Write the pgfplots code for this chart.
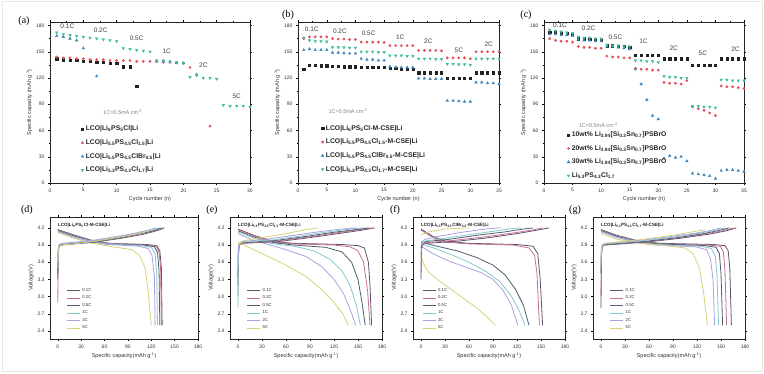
\documentclass[border=0pt]{standalone}
\usepackage{pgfplots}
\pgfplotsset{compat=1.18}
\usepackage{fontspec}
\setmainfont{Liberation Sans}
\newfontfamily\seriffont{Liberation Serif}

\definecolor{cBlack}{HTML}{222222}
\definecolor{cRed}{HTML}{E8505A}
\definecolor{cBlue}{HTML}{3F86B8}
\definecolor{cGreen}{HTML}{40BE98}
\definecolor{rA}{HTML}{5E5470}
\definecolor{rB}{HTML}{C8708E}
\definecolor{rC}{HTML}{4E5E70}
\definecolor{rD}{HTML}{86CACA}
\definecolor{rE}{HTML}{A9A2E0}
\definecolor{rF}{HTML}{D9D27A}

\pgfplotsset{
  common/.style={
    scale only axis,
    axis line style={line width=0.9pt, black!85},
    tick style={black, line width=0.4pt},
    tick align=outside,
    major tick length=2pt, minor tick length=1.2pt,
    minor x tick num=1,
    tick label style={font=\fontsize{5}{5.5}\selectfont, text=black!80},
    /pgf/number format/assume math mode=true,
    label style={font=\fontsize{5.5}{6}\selectfont, text=black!80},
    clip=true,
  },
  rate/.style={common,
    width=200pt, height=161pt,
    xmin=0, ymin=0, ymax=184,
    ytick={0,30,...,180},
    minor y tick num=1,
    xlabel={Cycle number (n)},
    ylabel={Specific capacity (mAh g\textsuperscript{-1})},
    xlabel style={yshift=2pt},
    ylabel style={yshift=-3pt},
    legend style={draw=none, fill=none, font=\bfseries\fontsize{6.8}{7}\selectfont, row sep=3.2pt, text=black!85},
    legend cell align=left,
  },
  volt/.style={common,
    width=150pt, height=122pt,
    xmin=-10, xmax=180, ymin=2.26, ymax=4.39,
    xtick={0,30,60,90,120,150,180},
    ytick={2.4,2.7,3.0,3.3,3.6,3.9,4.2},
    yticklabel style={/pgf/number format/.cd, fixed, fixed zerofill, precision=1},
    xlabel={Specific capacity(mAh g\textsuperscript{-1})},
    ylabel={Voltage(V)},
    xlabel style={yshift=2pt},
    ylabel style={yshift=-3pt},
    legend style={draw=none, fill=none, font=\fontsize{4.3}{4.6}\selectfont, row sep=-1pt, text=black!80},
    legend cell align=left,
    legend image code/.code={\draw[#1] (0pt,0pt) -- (13pt,0pt);},
    every axis plot/.append style={line width=0.8pt},
  },
  sK/.style={only marks, mark=square*, mark size=1.1pt, color=cBlack},
  sR/.style={only marks, mark=*, mark size=1.2pt, color=cRed},
  sB/.style={only marks, mark=triangle*, mark size=1.5pt, color=cBlue},
  sG/.style={only marks, mark=triangle*, mark size=1.5pt, color=cGreen, mark options={rotate=180}},
}
\newcommand{\ann}{\fontsize{6.5}{7}\selectfont}
\newcommand{\ttl}{\bfseries\fontsize{4.6}{5}\selectfont}

\begin{document}
\begin{tikzpicture}
\path[use as bounding box, fill=white] (0pt,0pt) rectangle (764pt,374pt);
\draw[gray!18, line width=1pt] (2pt,2pt) rectangle (762pt,372pt);

% ---------------- (a)
\begin{axis}[rate, at={(50pt,191pt)}, anchor=south west, xmax=30, xtick={0,5,...,30},
  legend style={at={(0.14,0.38)}, anchor=north west}]
\addplot[sK] coordinates {(1,142)(2,141)(3,140)(4,140)(5,139)(6,139)(7,138)(8,138)(9,137)(10,137)(11,133)(12,133)(13,111)};
\addlegendentry{LCO|Li\textsubscript{6}PS\textsubscript{5}Cl|Li}
\addplot[sR] coordinates {(1,144)(2,143)(3,143)(4,142)(5,142)(6,141)(7,141)(8,141)(9,140)(10,140)(11,140)(12,140)(13,139)(14,139)(15,139)(16,139)(17,138)(18,138)(19,138)(20,137)(21,132)(24,65)};
\addlegendentry{LCO|Li\textsubscript{5.5}PS\textsubscript{4.5}Cl\textsubscript{1.5}|Li}
\addplot[sB] coordinates {(1,168)(2,167)(3,165)(4,163)(5,154)(7,122)(16,139)(17,139)(18,138)(19,137)(20,137)(22,124)};
\addlegendentry{LCO|Li\textsubscript{5.5}PS\textsubscript{4.5}ClBr\textsubscript{0.5}|Li}
\addplot[sG] coordinates {(1,172)(2,170)(3,169)(4,168)(5,167)(6,166)(7,165)(8,164)(9,163)(10,162)(11,154)(12,153)(13,152)(14,151)(15,150)(16,140)(17,140)(18,139)(19,138)(20,137)(21,121)(22,123)(23,120)(24,120)(25,119)(26,89)(27,88)(28,88)(29,88)(30,87)};
\addlegendentry{LCO|Li\textsubscript{5.3}PS\textsubscript{4.3}Cl\textsubscript{1.7}|Li}
\node[font=\ann, text=black!75] at (axis cs:2.6,179) {0.1C};
\node[font=\ann, text=black!75] at (axis cs:7.6,174) {0.2C};
\node[font=\ann, text=black!75] at (axis cs:13,165) {0.5C};
\node[font=\ann, text=black!75] at (axis cs:17.5,150) {1C};
\node[font=\ann, text=black!75] at (axis cs:23,134) {2C};
\node[font=\ann, text=black!75] at (axis cs:28,99) {5C};
\node[font=\fontsize{5.5}{6}\selectfont, text=gray] at (axis cs:10.9,81) {1C=0.5mA cm\textsuperscript{-2}};
\end{axis}

% ---------------- (b)
\begin{axis}[rate, at={(298pt,191pt)}, anchor=south west, width=201pt, xmax=35, xtick={0,5,...,35},
  legend style={at={(0.1,0.385)}, anchor=north west}]
\addplot[sK] coordinates {(1,130)(2,135)(3,134.5)(4,134)(5,134)(6,133.5)(7,133.5)(8,133)(9,133)(10,133)(11,132.5)(12,132.5)(13,132)(14,132)(15,132)(16,131)(17,131)(18,130.5)(19,130.5)(20,130)(21,126)(22,126)(23,126)(24,126)(25,126)(26,120)(27,120)(28,120)(29,120)(30,120)(31,126)(32,126)(33,126)(34,126)(35,126)};
\addlegendentry{LCO|Li\textsubscript{6}PS\textsubscript{5}Cl-M-CSE|Li}
\addplot[sR] coordinates {(1,165)(2,167)(3,167)(4,167)(5,167)(6,165)(7,164.5)(8,164.5)(9,164)(10,164)(11,161)(12,161)(13,161)(14,161)(15,160.5)(16,157)(17,157)(18,157)(19,157)(20,157)(21,151.5)(22,151.5)(23,151.5)(24,151.5)(25,151)(26,143)(27,143)(28,143)(29,143)(30,142)(31,150)(32,150)(33,150)(34,150)(35,150)};
\addlegendentry{LCO|Li\textsubscript{5.5}PS\textsubscript{4.5}Cl\textsubscript{1.5}-M-CSE|Li}
\addplot[sB] coordinates {(1,152)(2,153)(3,152)(4,152)(5,152)(6,149)(7,149)(8,148.5)(9,148)(10,148)(11,142)(12,141)(13,141)(14,140)(15,140)(16,133)(17,132.5)(18,132)(19,132)(20,132)(21,119.5)(22,119.5)(23,119)(24,119)(25,119)(26,94)(27,94)(28,93.5)(29,93)(30,93)(31,115)(32,115)(33,114)(34,114)(35,113)};
\addlegendentry{LCO|Li\textsubscript{5.5}PS\textsubscript{4.5}ClBr\textsubscript{0.5}-M-CSE|Li}
\addplot[sG] coordinates {(1,166)(2,163)(3,162)(4,162)(5,161.5)(6,155)(7,155)(8,155)(9,154.5)(10,154.5)(11,150)(12,150)(13,150)(14,149.5)(15,149.5)(16,145.5)(17,145.5)(18,145.5)(19,145)(20,145)(21,142)(22,142)(23,142)(24,141.5)(25,141.5)(26,136)(27,136)(28,135.5)(29,135.5)(30,135)(31,142)(32,142)(33,142)(34,142)(35,142)};
\addlegendentry{LCO|Li\textsubscript{5.3}PS\textsubscript{4.3}Cl\textsubscript{1.7}-M-CSE|Li}
\node[font=\ann, text=black!75] at (axis cs:2.4,176) {0.1C};
\node[font=\ann, text=black!75] at (axis cs:7.3,173) {0.2C};
\node[font=\ann, text=black!75] at (axis cs:12.3,171.5) {0.5C};
\node[font=\ann, text=black!75] at (axis cs:17.8,167) {1C};
\node[font=\ann, text=black!75] at (axis cs:22.7,162) {2C};
\node[font=\ann, text=black!75] at (axis cs:28,151.5) {5C};
\node[font=\ann, text=black!75] at (axis cs:33.2,159) {2C};
\node[font=\fontsize{5.5}{6}\selectfont, text=gray] at (axis cs:8.7,82) {1C=0.5mA cm\textsuperscript{-2}};
\end{axis}

% ---------------- (c)
\begin{axis}[rate, at={(544pt,191pt)}, anchor=south west, xmax=35, xtick={0,5,...,35},
  legend style={at={(0.1,0.345)}, anchor=north west}]
\addplot[sK] coordinates {(1,172)(2,172)(3,171)(4,171)(5,170)(6,165)(7,165)(8,164)(9,164)(10,163)(11,157)(12,157)(13,156)(14,156)(15,155)(16,146)(17,146)(18,146)(19,146)(20,146)(21,142)(22,142)(23,142)(24,142)(25,142)(26,135)(27,135)(28,135)(29,135)(30,135)(31,142)(32,142)(33,142)(34,142)(35,142)};
\addlegendentry{10wt\% Li\textsubscript{3.94}[Si\textsubscript{0.3}Sn\textsubscript{0.7}]PSBrO}
\addplot[sR] coordinates {(1,165)(2,163)(3,162)(4,162)(5,161)(6,156)(7,155)(8,155)(9,154)(10,154)(11,145)(12,144)(13,144)(14,143)(15,143)(16,131)(17,130)(18,130)(19,129)(20,129)(21,115)(22,114)(23,114)(24,113)(25,117)(26,87)(27,85)(28,83)(29,80)(30,77)(31,111)(32,110)(33,110)(34,109)(35,108)};
\addlegendentry{20wt\% Li\textsubscript{3.94}[Si\textsubscript{0.3}Sn\textsubscript{0.7}]PSBrO}
\addplot[sB] coordinates {(1,170)(2,170)(3,169)(4,169)(5,168)(6,164)(7,163)(8,163)(9,162)(10,162)(11,156)(12,156)(13,155)(14,154)(15,153)(16,130)(17,113)(18,95)(19,77)(20,73)(21,28)(22,31)(23,29)(24,30)(25,25)(26,11)(27,10)(28,9)(29,8)(30,5)(31,14)(32,15)(33,15)(34,14)(35,13)};
\addlegendentry{30wt\% Li\textsubscript{3.94}[Si\textsubscript{0.3}Sn\textsubscript{0.7}]PSBrO}
\addplot[sG] coordinates {(1,175)(2,174)(3,173)(4,172)(5,171)(6,167)(7,166)(8,166)(9,165)(10,165)(11,158)(12,157)(13,157)(14,156)(15,156)(16,140)(17,140)(18,139)(19,139)(20,138)(21,122)(22,121)(23,121)(24,120)(25,120)(26,88)(27,88)(28,87)(29,87)(30,86)(31,118)(32,118)(33,117)(34,117)(35,117)};
\addlegendentry{Li\textsubscript{5.3}PS\textsubscript{4.3}Cl\textsubscript{1.7}}
\node[font=\ann, text=black!75] at (axis cs:2.8,180) {0.1C};
\node[font=\ann, text=black!75] at (axis cs:7.8,176.5) {0.2C};
\node[font=\ann, text=black!75] at (axis cs:12.5,166) {0.5C};
\node[font=\ann, text=black!75] at (axis cs:17.4,162) {1C};
\node[font=\ann, text=black!75] at (axis cs:22.7,154) {2C};
\node[font=\ann, text=black!75] at (axis cs:27.8,148) {5C};
\node[font=\ann, text=black!75] at (axis cs:33.5,152.7) {2C};
\node[font=\fontsize{5.5}{6}\selectfont, text=gray] at (axis cs:9.5,66) {1C=0.5mA cm\textsuperscript{-2}};
\end{axis}

% ---------------- (d)
\begin{axis}[volt, at={(50pt,35pt)}, anchor=south west, width=148pt,
  legend style={at={(0.09,0.45)}, anchor=north west}]
\addplot[rA] coordinates {(0,4.17)(20,4.08)(47,3.97)(67,3.93)(114,3.91)(127,3.89)(131,3.8)(133,3.5)(134,2.5)}; \addlegendentry{0.1C}
\addplot[rB] coordinates {(0,4.16)(20,4.07)(46,3.97)(66,3.93)(113,3.9)(126,3.88)(130,3.78)(132,3.5)(133,2.5)}; \addlegendentry{0.2C}
\addplot[rC] coordinates {(0,4.15)(20,4.06)(46,3.96)(65,3.92)(111,3.9)(124,3.87)(128,3.77)(130,3.45)(131,2.5)}; \addlegendentry{0.5C}
\addplot[rD] coordinates {(0,4.14)(20,4.05)(45,3.96)(64,3.92)(108,3.89)(120,3.86)(125,3.75)(127,3.4)(128,2.5)}; \addlegendentry{1C}
\addplot[rE] coordinates {(0,4.13)(20,4.04)(44,3.95)(62,3.91)(104,3.88)(116,3.84)(121,3.72)(124,3.35)(125,2.5)}; \addlegendentry{2C}
\addplot[rF] coordinates {(0,4.12)(20,4.02)(45,3.93)(70,3.87)(95,3.82)(105,3.72)(112,3.5)(116,3.1)(120,2.5)}; \addlegendentry{5C}
\addplot[rA, forget plot] coordinates {(0,3.3)(0.5,3.75)(1.5,3.88)(5,3.9)(48,3.95)(82,4.02)(110,4.09)(127,4.15)(137,4.2)};
\addplot[rB, forget plot] coordinates {(0,2.9)(0.5,3.7)(1.5,3.88)(5,3.91)(47,3.96)(81,4.03)(108,4.1)(125,4.15)(135,4.2)};
\addplot[rC, forget plot] coordinates {(0,3.4)(0.5,3.78)(1.5,3.89)(5,3.91)(46,3.96)(80,4.03)(106,4.1)(123,4.15)(133,4.2)};
\addplot[rD, forget plot] coordinates {(0,3.5)(0.5,3.8)(1.5,3.9)(5,3.92)(45,3.97)(78,4.04)(104,4.11)(120,4.16)(130,4.2)};
\addplot[rE, forget plot] coordinates {(0,3.6)(0.5,3.83)(1.5,3.91)(5,3.93)(44,3.98)(76,4.05)(100,4.11)(116,4.16)(126,4.2)};
\addplot[rF, forget plot] coordinates {(0,3.6)(0.5,3.84)(2,3.9)(20,3.92)(50,3.97)(80,4.04)(105,4.1)(118,4.15)};
\node[font=\ttl, anchor=north west, text=black!85] at (rel axis cs:0.03,0.98) {LCO|Li\textsubscript{6}PS\textsubscript{5}Cl-M-CSE|Li};
\end{axis}

% ---------------- (e)
\begin{axis}[volt, at={(230pt,35pt)}, anchor=south west, width=152pt,
  legend style={at={(0.09,0.45)}, anchor=north west}]
\addplot[rA] coordinates {(0,4.18)(20,4.07)(45,3.96)(70,3.93)(130,3.91)(150,3.89)(158,3.85)(163,3.6)(165,3.2)(167,2.5)}; \addlegendentry{0.1C}
\addplot[rB] coordinates {(0,4.17)(20,4.06)(45,3.95)(70,3.92)(120,3.9)(140,3.87)(150,3.8)(157,3.6)(162,3.1)(165,2.5)}; \addlegendentry{0.2C}
\addplot[rC] coordinates {(0,4.15)(20,4.04)(45,3.94)(70,3.9)(110,3.86)(130,3.78)(142,3.6)(150,3.3)(155,2.9)(159,2.5)}; \addlegendentry{0.5C}
\addplot[rD] coordinates {(0,4.13)(20,4.02)(40,3.93)(70,3.88)(95,3.8)(115,3.65)(130,3.45)(140,3.2)(148,2.85)(153,2.5)}; \addlegendentry{1C}
\addplot[rE] coordinates {(0,4.1)(20,3.98)(40,3.9)(60,3.82)(85,3.7)(105,3.52)(120,3.3)(132,3.05)(141,2.75)(147,2.5)}; \addlegendentry{2C}
\addplot[rF] coordinates {(0,3.95)(15,3.85)(35,3.72)(60,3.55)(85,3.35)(105,3.12)(120,2.9)(131,2.7)(138,2.5)}; \addlegendentry{5C}
\addplot[rA, forget plot] coordinates {(0,3.2)(0.5,3.75)(1.5,3.9)(5,3.93)(50,3.96)(90,4.03)(125,4.1)(155,4.16)(171,4.2)};
\addplot[rB, forget plot] coordinates {(0,3.0)(0.5,3.72)(1.5,3.9)(5,3.93)(48,3.97)(88,4.04)(122,4.11)(152,4.17)(168,4.2)};
\addplot[rC, forget plot] coordinates {(0,3.35)(0.5,3.78)(1.5,3.91)(5,3.94)(46,3.98)(85,4.05)(118,4.12)(147,4.17)(164,4.2)};
\addplot[rD, forget plot] coordinates {(0,2.8)(0.5,3.7)(1.5,3.91)(5,3.95)(44,3.99)(80,4.06)(112,4.13)(140,4.18)(157,4.2)};
\addplot[rE, forget plot] coordinates {(0,3.6)(0.5,3.85)(1.5,3.93)(5,3.96)(40,4.01)(75,4.08)(105,4.14)(130,4.18)(148,4.2)};
\addplot[rF, forget plot] coordinates {(0,3.9)(5,3.97)(30,4.03)(60,4.1)(85,4.17)(100,4.2)};
\node[font=\ttl, anchor=north west, text=black!85] at (rel axis cs:0.03,0.98) {LCO|Li\textsubscript{5.5}PS\textsubscript{4.5}Cl\textsubscript{1.5}-M-CSE|Li};
\end{axis}

% ---------------- (f)
\begin{axis}[volt, at={(413pt,35pt)}, anchor=south west, width=152pt,
  legend style={at={(0.04,0.45)}, anchor=north west}]
\addplot[rA] coordinates {(0,4.18)(15,4.05)(30,3.97)(60,3.93)(120,3.91)(140,3.88)(146,3.75)(149,3.3)(152,2.5)}; \addlegendentry{0.1C}
\addplot[rB] coordinates {(0,4.16)(15,4.03)(30,3.95)(60,3.92)(115,3.9)(135,3.85)(142,3.72)(145,3.4)(148,2.5)}; \addlegendentry{0.2C}
\addplot[rC] coordinates {(0,3.95)(20,3.88)(45,3.8)(70,3.68)(90,3.55)(105,3.38)(118,3.13)(128,2.85)(135,2.5)}; \addlegendentry{0.5C}
\addplot[rD] coordinates {(0,3.92)(20,3.83)(40,3.72)(60,3.6)(80,3.45)(98,3.27)(112,3.03)(122,2.78)(130,2.5)}; \addlegendentry{1C}
\addplot[rE] coordinates {(0,3.88)(15,3.75)(35,3.62)(55,3.52)(75,3.42)(90,3.3)(103,3.1)(113,2.85)(121,2.5)}; \addlegendentry{2C}
\addplot[rF] coordinates {(0,3.72)(4,3.55)(10,3.42)(25,3.25)(40,3.1)(55,2.95)(70,2.8)(82,2.65)(93,2.5)}; \addlegendentry{5C}
\addplot[rA, forget plot] coordinates {(0,3.3)(0.5,3.8)(1.5,3.9)(5,3.93)(40,3.96)(80,4.02)(120,4.1)(145,4.16)(160,4.2)};
\addplot[rB, forget plot] coordinates {(0,3.5)(0.5,3.83)(1.5,3.92)(5,3.94)(40,3.98)(78,4.04)(115,4.11)(138,4.16)(152,4.2)};
\addplot[rC, forget plot] coordinates {(0,3.85)(1.5,3.93)(5,3.96)(35,4.0)(70,4.07)(105,4.13)(128,4.18)(140,4.2)};
\addplot[rD, forget plot] coordinates {(0,3.9)(5,3.97)(30,4.02)(60,4.08)(95,4.15)(115,4.19)(125,4.2)};
\addplot[rE, forget plot] coordinates {(0,3.95)(5,4.0)(25,4.06)(50,4.12)(80,4.18)(100,4.2)};
\addplot[rF, forget plot] coordinates {(0,4.08)(10,4.13)(30,4.18)(60,4.2)};
\node[font=\ttl, anchor=north west, text=black!85] at (rel axis cs:0.03,0.98) {LCO|Li\textsubscript{5.5}PS\textsubscript{4.5}ClBr\textsubscript{0.5}-M-CSE|Li};
\end{axis}

% ---------------- (g)
\begin{axis}[volt, at={(593pt,35pt)}, anchor=south west, width=152pt,
  legend style={at={(0.09,0.45)}, anchor=north west}]
\addplot[rA] coordinates {(0,4.17)(20,4.07)(50,3.96)(75,3.93)(140,3.91)(155,3.89)(159,3.8)(161,3.5)(163,2.5)}; \addlegendentry{0.1C}
\addplot[rB] coordinates {(0,4.16)(20,4.06)(49,3.96)(73,3.92)(135,3.9)(149,3.88)(153,3.78)(155,3.45)(157,2.5)}; \addlegendentry{0.2C}
\addplot[rC] coordinates {(0,4.15)(20,4.05)(48,3.95)(72,3.92)(130,3.89)(144,3.86)(148,3.75)(150,3.4)(152,2.5)}; \addlegendentry{0.5C}
\addplot[rD] coordinates {(0,4.14)(20,4.04)(47,3.95)(70,3.91)(125,3.88)(138,3.84)(143,3.7)(145,3.35)(147,2.5)}; \addlegendentry{1C}
\addplot[rE] coordinates {(0,4.13)(20,4.03)(46,3.94)(68,3.9)(118,3.87)(132,3.82)(137,3.65)(140,3.3)(142,2.5)}; \addlegendentry{2C}
\addplot[rF] coordinates {(0,4.1)(20,4.0)(50,3.93)(80,3.89)(105,3.85)(115,3.75)(123,3.5)(128,3.1)(133,2.5)}; \addlegendentry{5C}
\addplot[rA, forget plot] coordinates {(0,2.8)(0.5,3.7)(1.5,3.88)(5,3.9)(55,3.95)(100,4.02)(135,4.09)(157,4.15)(169,4.2)};
\addplot[rB, forget plot] coordinates {(0,3.0)(0.5,3.72)(1.5,3.88)(5,3.91)(54,3.96)(98,4.03)(132,4.1)(153,4.15)(165,4.2)};
\addplot[rC, forget plot] coordinates {(0,3.4)(0.5,3.78)(1.5,3.89)(5,3.91)(52,3.96)(95,4.03)(128,4.1)(149,4.16)(160,4.2)};
\addplot[rD, forget plot] coordinates {(0,3.5)(0.5,3.8)(1.5,3.9)(5,3.92)(50,3.97)(92,4.04)(124,4.11)(144,4.16)(155,4.2)};
\addplot[rE, forget plot] coordinates {(0,3.6)(0.5,3.83)(1.5,3.91)(5,3.93)(48,3.98)(88,4.05)(119,4.11)(139,4.16)(150,4.2)};
\addplot[rF, forget plot] coordinates {(0,3.7)(1,3.88)(5,3.93)(40,3.98)(80,4.05)(110,4.12)(130,4.17)};
\node[font=\ttl, anchor=north west, text=black!85] at (rel axis cs:0.03,0.98) {LCO|Li\textsubscript{5.3}PS\textsubscript{4.3}Cl\textsubscript{1.7}-M-CSE|Li};
\end{axis}

% panel labels
\node[font=\seriffont\fontsize{10}{11}\selectfont] at (24pt,353pt) {(a)};
\node[font=\seriffont\fontsize{10}{11}\selectfont] at (288pt,359pt) {(b)};
\node[font=\seriffont\fontsize{10}{11}\selectfont] at (526pt,359pt) {(c)};
\node[font=\seriffont\fontsize{10}{11}\selectfont] at (27pt,164pt) {(d)};
\node[font=\seriffont\fontsize{10}{11}\selectfont] at (212pt,164pt) {(e)};
\node[font=\seriffont\fontsize{10}{11}\selectfont] at (395pt,164pt) {(f)};
\node[font=\seriffont\fontsize{10}{11}\selectfont] at (575pt,164pt) {(g)};
\end{tikzpicture}
\end{document}
